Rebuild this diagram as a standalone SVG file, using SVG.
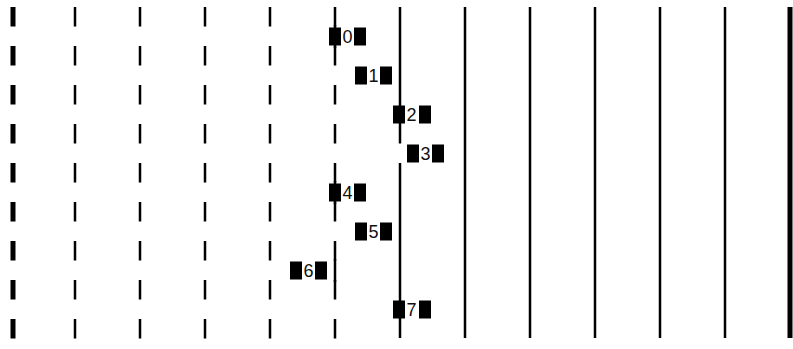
<svg xmlns="http://www.w3.org/2000/svg" width="793" height="349" viewBox="0 0 793 349">
<style>
.d{stroke:#000;stroke-width:2.5;stroke-dasharray:19.5 19.5;fill:none}
.s{stroke:#000;stroke-width:2.5;fill:none}
.thick{stroke-width:5}
.b{fill:#000}
.t{font-family:"Liberation Sans","DejaVu Sans",sans-serif;font-size:18px;fill:#111;text-anchor:middle}
</style>
<rect width="793" height="349" fill="#fff"/>
<g id="connectors">
<line class="d thick" x1="13" y1="7" x2="13" y2="338.5"/>
<line class="d" x1="75" y1="7" x2="75" y2="338.5"/>
<line class="d" x1="140" y1="7" x2="140" y2="338.5"/>
<line class="d" x1="205" y1="7" x2="205" y2="338.5"/>
<line class="d" x1="270" y1="7" x2="270" y2="338.5"/>
<line class="d" x1="335" y1="7" x2="335" y2="338.5"/>
<line class="s" x1="335" y1="25" x2="335" y2="48"/>
<line class="s" x1="335" y1="181" x2="335" y2="204"/>
<line class="s" x1="335" y1="259" x2="335" y2="282"/>
<line class="s" x1="400" y1="7" x2="400" y2="143.5"/>
<line class="s" x1="400" y1="163" x2="400" y2="338"/>
<line class="s" x1="465" y1="7" x2="465" y2="338"/>
<line class="s" x1="530" y1="7" x2="530" y2="338"/>
<line class="s" x1="595" y1="7" x2="595" y2="338"/>
<line class="s" x1="660" y1="7" x2="660" y2="338"/>
<line class="s" x1="725" y1="7" x2="725" y2="338"/>
<line class="s thick" x1="790" y1="7" x2="790" y2="338"/>
</g>
<g id="n0"><rect class="b" x="329" y="27.5" width="12" height="18"/><rect class="b" x="354" y="27.5" width="12" height="18"/><text class="t" x="347.5" y="43">0</text></g>
<g id="n1"><rect class="b" x="355" y="66.5" width="12" height="18"/><rect class="b" x="380" y="66.5" width="12" height="18"/><text class="t" x="373.5" y="82">1</text></g>
<g id="n2"><rect class="b" x="393" y="105.5" width="12" height="18"/><rect class="b" x="419" y="105.5" width="12" height="18"/><text class="t" x="411.5" y="121">2</text></g>
<g id="n3"><rect class="b" x="407" y="144.5" width="12" height="18"/><rect class="b" x="432" y="144.5" width="12" height="18"/><text class="t" x="425.5" y="160">3</text></g>
<g id="n4"><rect class="b" x="329" y="183.5" width="12" height="18"/><rect class="b" x="354" y="183.5" width="12" height="18"/><text class="t" x="347.5" y="199">4</text></g>
<g id="n5"><rect class="b" x="355" y="222.5" width="12" height="18"/><rect class="b" x="380" y="222.5" width="12" height="18"/><text class="t" x="373.5" y="238">5</text></g>
<g id="n6"><rect class="b" x="290" y="261.5" width="12" height="18"/><rect class="b" x="315" y="261.5" width="12" height="18"/><text class="t" x="308.5" y="277">6</text></g>
<g id="n7"><rect class="b" x="393" y="300.5" width="12" height="18"/><rect class="b" x="419" y="300.5" width="12" height="18"/><text class="t" x="411.5" y="316">7</text></g>
</svg>
